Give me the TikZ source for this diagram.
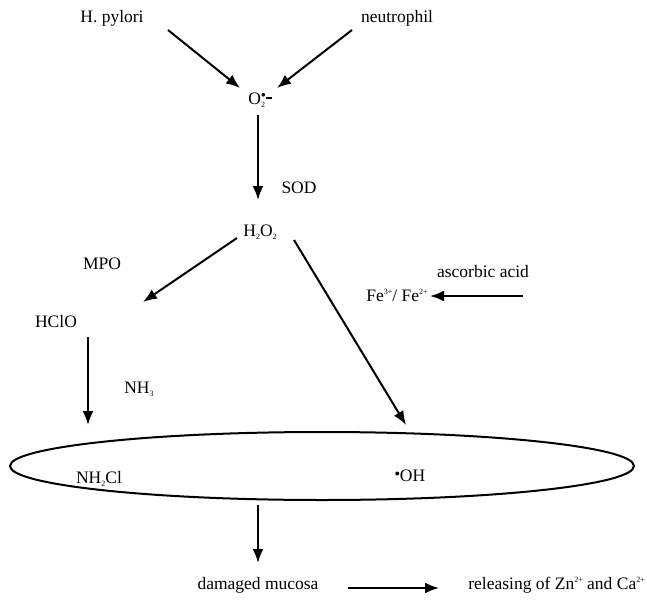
\documentclass[tikz,border=0pt]{standalone}
\usepackage{fontspec}
\setmainfont{Liberation Serif}
\usetikzlibrary{arrows.meta}
\newcommand{\mysub}[1]{\raisebox{-3pt}{\fontsize{8}{8}\selectfont #1}}
\newcommand{\mysup}[1]{\raisebox{7pt}{\fontsize{8}{8}\selectfont #1}}
\begin{document}
\begin{tikzpicture}[x=1pt,y=-1pt,
  lbl/.style={font=\fontsize{17.5}{20}\selectfont, inner sep=1pt},
  arr/.style={line width=2pt, -{Latex[length=14pt,width=11pt]}}]
\useasboundingbox (0,0) rectangle (647,599);
\node[lbl] (hp) at (112,18) {H. pylori};
\node[lbl] (ne) at (397,18) {neutrophil};
\node[lbl] (o2) at (260,100) {O\mysub{2}\hspace{-4pt}\raisebox{7pt}{\fontsize{9}{9}\selectfont$\bullet$}\raisebox{5pt}{\rule{6pt}{1.8pt}}};
\node[lbl] (sod) at (299,188) {SOD};
\node[lbl] (h2o2) at (260,232) {H\mysub{2}O\mysub{2}};
\node[lbl] (mpo) at (102,264) {MPO};
\node[lbl] (hclo) at (56,322) {HClO};
\node[lbl] (nh3) at (139,389) {NH\mysub{3}};
\node[lbl] (fe) at (397,295) {Fe\mysup{3+}/ Fe\mysup{2+}};
\node[lbl] (asc) at (483,272) {ascorbic acid};
\draw[line width=2pt] (322,466) ellipse (312 and 34);
\node[lbl] (nh2cl) at (99,479) {NH\mysub{2}Cl};
\node[lbl] (oh) at (410,476) {\raisebox{5pt}{\fontsize{10}{10}\selectfont$\bullet$}OH};
\node[lbl] (dm) at (258,585) {damaged mucosa};
\node[lbl, anchor=east] (rel) at (646,585) {releasing of Zn\mysup{2+} and Ca\mysup{2+}};
\coordinate (a1s) at (168,30); \coordinate (a1e) at (240,88);
\coordinate (a2s) at (352,30); \coordinate (a2e) at (277,88);
\coordinate (a3s) at (258,115); \coordinate (a3e) at (258,200);
\coordinate (a4s) at (237,238); \coordinate (a4e) at (143,302);
\coordinate (a5s) at (88,337); \coordinate (a5e) at (88,425);
\coordinate (a6s) at (294,240); \coordinate (a6e) at (406,425);
\coordinate (a7s) at (523,296); \coordinate (a7e) at (430,296);
\coordinate (a8s) at (258,505); \coordinate (a8e) at (258,563);
\coordinate (a9s) at (348,588); \coordinate (a9e) at (439,588);
\draw[arr] (a1s) -- (a1e);
\draw[arr] (a2s) -- (a2e);
\draw[arr] (a3s) -- (a3e);
\draw[arr] (a4s) -- (a4e);
\draw[arr] (a5s) -- (a5e);
\draw[arr] (a6s) -- (a6e);
\draw[arr] (a7s) -- (a7e);
\draw[arr] (a8s) -- (a8e);
\draw[arr] (a9s) -- (a9e);
\end{tikzpicture}
\end{document}
